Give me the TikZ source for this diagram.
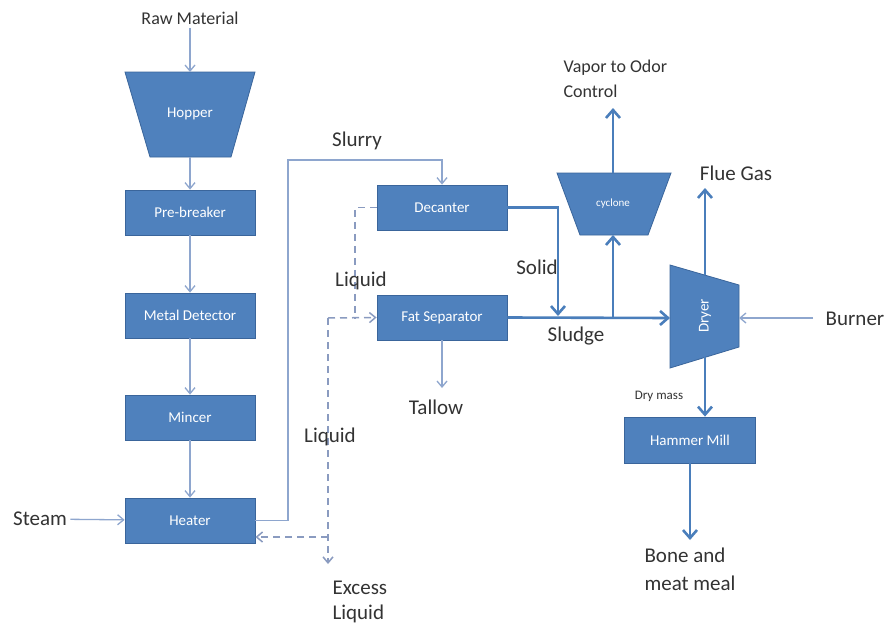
\documentclass[tikz,border=0pt]{standalone}
\usepackage{fontspec}
\setmainfont{Carlito}
\usepackage{tikz}
\usetikzlibrary{calc,arrows.meta}
\definecolor{boxfill}{HTML}{4F81BD}
\definecolor{boxedge}{HTML}{3A659B}
\definecolor{flow}{HTML}{4A7EBB}
\definecolor{thin}{HTML}{8EA6CE}
\definecolor{dashc}{HTML}{8A9BC0}
\definecolor{ink}{HTML}{333333}
\tikzset{
  unit/.style={rectangle, fill=boxfill, draw=boxedge, line width=0.8pt,
    minimum width=130pt, minimum height=45pt, inner sep=0pt,
    text=white, font=\fontsize{15}{18}\selectfont},
  vessel/.style={fill=boxfill, draw=boxedge, line width=0.8pt},
  vtext/.style={text=white, font=\fontsize{15}{18}\selectfont},
  feed/.style={draw=thin, line width=1.3pt, -{Straight Barb[length=6pt,width=10pt]}},
  pipe/.style={draw=flow, line width=2.6pt, -{Straight Barb[length=8pt,width=14pt]}},
  liquid/.style={draw=dashc, line width=1.5pt, dash pattern=on 7pt off 5pt},
  liqtip/.style={-{Straight Barb[length=6pt,width=10pt]}},
  lbl/.style={text=ink, font=\fontsize{21}{25}\selectfont},
  mlbl/.style={text=ink, font=\fontsize{18}{25}\selectfont},
  slbl/.style={text=ink, font=\fontsize{13}{15}\selectfont}
}
\begin{document}
\begin{tikzpicture}[x=1pt, y=-1pt]
  \useasboundingbox[fill=white] (0,0) rectangle (886,629);

  % left column
  \node[mlbl] (raw) at (190,18) {Raw Material};
  \coordinate (hoppertop) at (190,72);
  \coordinate (hopperbot) at (190,157);
  \draw[vessel] (125,72) -- (255,72) -- (231,157) -- (150,157) -- cycle;
  \node[vtext] (hopper) at (190,114) {Hopper};

  \node[unit] (prebreaker) at (190,212.5) {Pre-breaker};
  \node[unit] (metaldet) at (190,315.5) {Metal Detector};
  \node[unit] (mincer) at (190,417.5) {Mincer};
  \node[unit] (heater) at (190,520.5) {Heater};
  \node[lbl] (steam) at (40,519) {Steam};

  % separation
  \node[unit] (decanter) at (442,207.5) {Decanter};
  \node[unit] (fatsep) at (442,317.5) {Fat Separator};
  \node[lbl] (tallow) at (436,407) {Tallow};

  \coordinate (cyctop) at (613,173);
  \coordinate (cycbot) at (613,235);
  \draw[vessel] (557,173) -- (671,173) -- (648,235) -- (580,235) -- cycle;
  \node[vtext, font=\fontsize{11}{13}\selectfont] (cyclone) at (613,204) {cyclone};

  \coordinate (dryertop) at (705,275);
  \coordinate (dryerbot) at (705,357);
  \coordinate (dryerin) at (670,318);
  \coordinate (dryerright) at (739,318);
  \draw[vessel] (670,265) -- (739,285) -- (739,347) -- (670,368) -- cycle;
  \node[vtext, rotate=90] (dryer) at (705,316) {Dryer};

  \node[unit, minimum width=131pt, minimum height=46pt] (hammermill) at (690,440) {Hammer Mill};

  % free ends
  \coordinate (vaporend) at (613,108);
  \coordinate (flueend) at (705,188);
  \coordinate (mealend) at (690,540);
  \coordinate (jn) at (328,318);
  \coordinate (ret) at (328,537);
  \coordinate (drain) at (328,564);
  \coordinate (tallowend) at (442,388);
  \coordinate (mixpt) at (613,318);
  \coordinate (solidin) at (558,316);

  % feed line
  \draw[feed] (raw) -- (hoppertop);
  \draw[feed] (hopperbot) -- (prebreaker.north);
  \draw[feed] (prebreaker) -- (metaldet);
  \draw[feed] (metaldet) -- (mincer);
  \draw[feed] (mincer) -- (heater);
  \draw[feed] (steam) -- (heater);
  \draw[feed] (heater.east) -| (288,160) -| (decanter.north);
  \draw[feed] (fatsep) -- (tallowend);
  \draw[feed] ($(dryerright)+(74,0)$) -- (dryerright);

  % liquid returns
  \draw[liquid] (decanter.west) -| (jn -| 355,0);
  \draw[liquid, liqtip] (jn) -- (fatsep.west);
  \draw[liquid, liqtip] (jn) -- (drain);
  \draw[liquid, liqtip] (ret) -- (ret -| heater.east);

  % solids
  \draw[pipe] (decanter.east) -| (solidin);
  \draw[pipe] (fatsep.east) -- (dryerin);
  \draw[pipe] (mixpt) -- (cycbot);
  \draw[pipe] (cyctop) -- (vaporend);
  \draw[pipe] (dryertop) -- (flueend);
  \draw[pipe] (dryerbot) -- (dryerbot |- hammermill.north);
  \draw[pipe] (hammermill) -- (mealend);

  % labels
  \node[lbl] (slurry) at (357,141) {Slurry};
  \node[lbl] (liqtop) at (361,281) {Liquid};
  \node[lbl] (liqlow) at (330,437) {Liquid};
  \node[lbl] (solid) at (537,267) {Solid};
  \node[lbl] (sludge) at (576,336) {Sludge};
  \node[lbl] (flue) at (736,173) {Flue Gas};
  \node[lbl] (burner) at (855,319) {Burner};
  \node[slbl] (drymass) at (659,396) {Dry mass};
  \node[mlbl, anchor=west, align=left] (vapor) at (560,79) {Vapor to Odor\\Control};
  \node[lbl, anchor=west, align=left, font=\fontsize{21}{28}\selectfont] (meal) at (641,569) {Bone and\\meat meal};
  \node[lbl, anchor=west, align=left] (excess) at (329,602) {Excess\\Liquid};
\end{tikzpicture}
\end{document}
